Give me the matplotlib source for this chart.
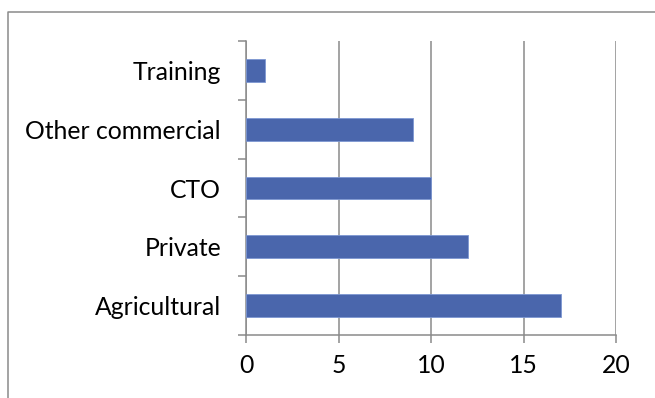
import matplotlib
matplotlib.use('Agg')
import matplotlib.pyplot as plt
from matplotlib.lines import Line2D

categories = ['Agricultural', 'Private', 'CTO', 'Other commercial', 'Training']
counts = [17, 12, 10, 9, 1]
x_ticks = [0, 5, 10, 15, 20]

plt.rcParams['font.family'] = ['Lato', 'DejaVu Sans']
grey = '#8a8a8a'

fig = plt.figure(figsize=(6.55, 3.98), dpi=100)
ax = fig.add_axes([246 / 655, 1 - 335 / 398, 370 / 655, 294 / 398])

ax.barh(range(len(categories)), counts, height=0.39, color='#4a66ac',
        edgecolor='#7d97d2', linewidth=0.6, zorder=3)

ax.set_xlim(0, 20)
ax.set_ylim(-0.5, len(categories) - 0.5)
ax.set_xticks(x_ticks)
ax.set_xticklabels([str(t) for t in x_ticks])
ax.set_yticks([i - 0.5 for i in range(len(categories) + 1)], minor=False)
ax.set_yticklabels([])
ax.set_yticks(range(len(categories)), minor=True)
ax.set_yticklabels(categories, minor=True)

ax.xaxis.grid(True, color=grey, linewidth=1.1, zorder=0)
ax.tick_params(axis='x', length=6, width=1.1, color=grey, pad=8, labelsize=17.8)
ax.tick_params(axis='y', which='major', length=6, width=1.1, color=grey)
ax.tick_params(axis='y', which='minor', length=0, pad=18, labelsize=17.8)

for side in ['top', 'right']:
    ax.spines[side].set_visible(False)
for side in ['left', 'bottom']:
    ax.spines[side].set_color(grey)
    ax.spines[side].set_linewidth(1.1)

# chart area frame (top and left edges)
fig.add_artist(Line2D([8 / 655, 8 / 655, 1], [0, 1 - 12 / 398, 1 - 12 / 398],
                      transform=fig.transFigure, color=grey, linewidth=1.1))

fig.savefig('out.png', dpi=100)
